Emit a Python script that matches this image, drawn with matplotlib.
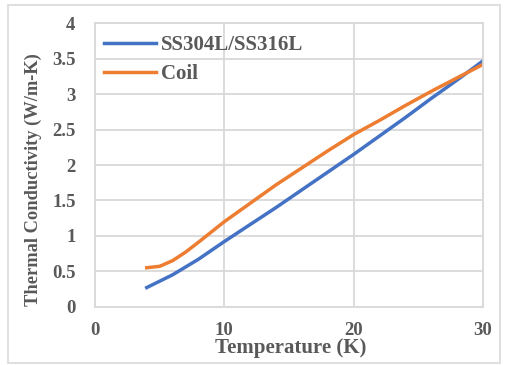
import matplotlib.pyplot as plt
from matplotlib.patches import Rectangle

temp_ss = [4, 6, 8, 10, 12, 14, 16, 18, 20, 22, 24, 26, 28, 30]
k_ss = [0.27, 0.45, 0.67, 0.92, 1.16, 1.40, 1.65, 1.90, 2.15, 2.41, 2.67, 2.94, 3.20, 3.47]

temp_coil = [4, 5, 6, 7, 8, 10, 12, 14, 16, 18, 20, 22, 24, 26, 28, 30]
k_coil = [0.55, 0.57, 0.65, 0.77, 0.91, 1.20, 1.46, 1.72, 1.96, 2.20, 2.43, 2.63, 2.84, 3.04, 3.23, 3.42]

x_ticks = [0, 10, 20, 30]
y_ticks = [0, 0.5, 1, 1.5, 2, 2.5, 3, 3.5, 4]
y_tick_labels = ['0', '0.5', '1', '1.5', '2', '2.5', '3', '3.5', '4']

plt.rcParams['font.family'] = ['Liberation Serif', 'DejaVu Serif']
text_color = '#595959'
grid_color = '#d9d9d9'

W, H = 505, 365
fig = plt.figure(figsize=(W / 100, H / 100), dpi=100)
ax = fig.add_axes([95 / W, 1 - 306.7 / H, 388 / W, 283.4 / H])

# outer chart border
fig.patches.append(Rectangle((8 / W, 1 - 362.5 / H), 492 / W, 357.5 / H,
                             transform=fig.transFigure, fill=False,
                             edgecolor=grid_color, linewidth=1.2))

ax.plot(temp_ss, k_ss, color='#4472C4', linewidth=2.5, label='SS304L/SS316L')
ax.plot(temp_coil, k_coil, color='#ED7D31', linewidth=2.5, label='Coil')

ax.set_xlim(0, 30)
ax.set_ylim(0, 4)
ax.set_xticks(x_ticks)
ax.set_yticks(y_ticks)
ax.set_yticklabels(y_tick_labels)
ax.grid(True, color=grid_color, linewidth=1.3)
ax.set_axisbelow(True)
for s in ax.spines.values():
    s.set_color(grid_color)
    s.set_linewidth(1.3)
ax.tick_params(length=0, colors=text_color, labelsize=13.5)
ax.tick_params(axis='x', pad=11)
ax.tick_params(axis='y', pad=14)
for lbl in ax.get_xticklabels() + ax.get_yticklabels():
    lbl.set_fontweight('bold')

fig.text(291 / W, 1 - 353 / H, 'Temperature (K)', fontsize=15, fontweight='bold',
         color=text_color, ha='center', va='baseline')
fig.text(33 / W, 1 - 179.5 / H, 'Thermal Conductivity (W/m-K)', fontsize=13.3,
         fontweight='bold', color=text_color, ha='center', va='center', rotation=90)

leg = ax.legend(loc='upper left', bbox_to_anchor=(104 / W, 1 - 35 / H),
                bbox_transform=fig.transFigure, frameon=False, handlelength=2.5,
                handletextpad=0.25, labelspacing=0.45, borderpad=0, borderaxespad=0,
                prop={'weight': 'bold', 'size': 15})
for t in leg.get_texts():
    t.set_color(text_color)

fig.savefig('out.png', dpi=100)
